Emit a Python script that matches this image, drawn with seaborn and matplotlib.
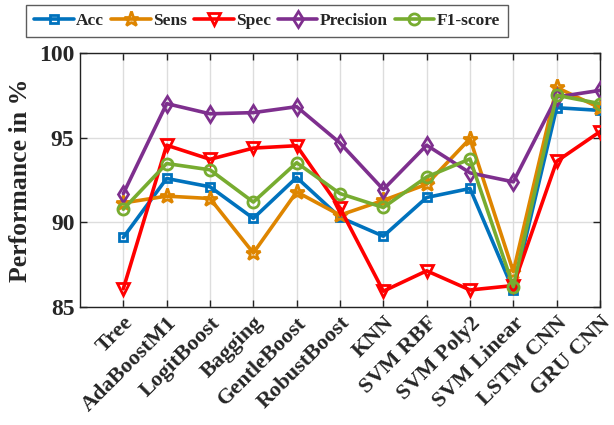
import numpy as np
import pandas as pd
import matplotlib
matplotlib.use("Agg")
import matplotlib.pyplot as plt
import matplotlib.transforms as mtransforms
import seaborn as sns

models = ["Tree", "AdaBoostM1", "LogitBoost", "Bagging", "GentleBoost",
          "RobustBoost", "KNN", "SVM RBF", "SVM Poly2", "SVM Linear",
          "LSTM CNN", "GRU CNN"]

acc = [89.12, 92.59, 92.10, 90.24, 92.65, 90.30, 89.19, 91.47, 92.00, 86.00, 96.76, 96.60]
sens = [91.15, 91.55, 91.41, 88.20, 91.80, 90.43, 91.30, 92.25, 94.94, 87.10, 97.95, 96.75]
spec = [86.10, 94.55, 93.72, 94.38, 94.52, 90.85, 85.95, 87.15, 86.02, 86.28, 93.60, 95.35]
precision = [91.70, 97.00, 96.40, 96.47, 96.82, 94.68, 91.94, 94.55, 92.92, 92.39, 97.39, 97.78]
f1 = [90.78, 93.47, 93.10, 91.20, 93.52, 91.70, 90.88, 92.68, 93.74, 86.22, 97.49, 97.00]

series_names = ["Acc", "Sens", "Spec", "Precision", "F1-score"]
series_values = [acc, sens, spec, precision, f1]
colors = ["#0072BD", "#DE8500", "#FF0000", "#7E2F8E", "#77AC30"]
markers = ["s", "*", "v", "d", "o"]
msizes = [7.5, 14, 11, 10, 10]

frames = []
for name, vals in zip(series_names, series_values):
    frames.append(pd.DataFrame({"pos": np.arange(1, len(models) + 1),
                                "value": vals, "metric": name}))
df = pd.concat(frames, ignore_index=True)

sns.set_style("ticks")
plt.rcParams["font.family"] = ["Liberation Serif", "DejaVu Serif"]
plt.rcParams["font.weight"] = "bold"

fig = plt.figure(figsize=(6.14, 4.25), dpi=100)
ax = fig.add_axes([80 / 614, 1 - 307.3 / 425, 520 / 614, 254.6 / 425])

for name, col, mk, ms in zip(series_names, colors, markers, msizes):
    sub = df[df["metric"] == name]
    sns.lineplot(data=sub, x="pos", y="value", ax=ax, color=col, lw=2.6,
                 marker=mk, markersize=ms, markerfacecolor="none",
                 markeredgecolor=col, markeredgewidth=2.0, label=name,
                 legend=False, zorder=3)

ax.set_xlim(0, 12)
ax.set_ylim(85, 100)
ax.set_xticks(np.arange(1, len(models) + 1))
ax.set_xticklabels(models, rotation=45, ha="right", rotation_mode="anchor",
                   fontsize=16, fontweight="bold")
shift = mtransforms.ScaledTranslation(10 / 100, -5 / 100, fig.dpi_scale_trans)
for lbl in ax.get_xticklabels():
    lbl.set_transform(lbl.get_transform() + shift)
ax.set_yticks([85, 90, 95, 100])
ax.set_yticklabels(["85", "90", "95", "100"], fontsize=17, fontweight="bold")
ax.set_xlabel("")
ax.set_ylabel("Performance in %", fontsize=18.5, fontweight="bold", labelpad=5)
ax.grid(True, color="#DDDDDD", lw=1.0, zorder=0)
ax.tick_params(direction="in", top=True, right=True, length=5, width=1.0,
               color="#222222", pad=4)
for s in ax.spines.values():
    s.set_color("#222222")
    s.set_linewidth(1.0)

handles, labels = ax.get_legend_handles_labels()
for h in handles:
    h.set_markersize(h.get_markersize() * 0.8)
leg = fig.legend(handles, labels, loc="upper left",
                 bbox_to_anchor=(26 / 614, 1 - 5 / 425), ncol=5,
                 frameon=True, fancybox=False, edgecolor="#333333",
                 handlelength=2.3, handletextpad=0.12,
                 columnspacing=0.4, borderpad=0.45, borderaxespad=0.0,
                 prop={"weight": "bold", "size": 12.5})
leg.get_frame().set_linewidth(1.0)

fig.savefig("out.png", dpi=100)
